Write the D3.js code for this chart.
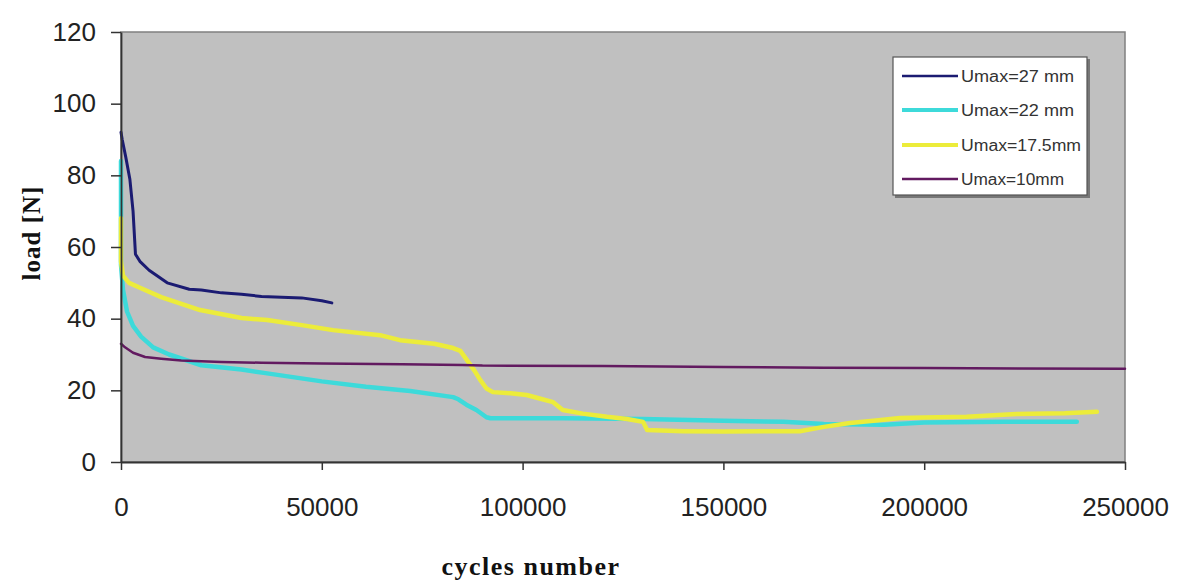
<!DOCTYPE html>
<html>
<head>
<meta charset="utf-8">
<script src="https://cdn.jsdelivr.net/npm/d3@7"></script>
<style>
  html, body { margin: 0; padding: 0; background: #ffffff; }
  svg { display: block; }
</style>
</head>
<body>
<script>
// ---- data ----
const seriesNames = ["Umax=27 mm", "Umax=22 mm", "Umax=17.5mm", "Umax=10mm"];
const seriesColors = ["#1b1b72", "#3ddada", "#ecec3a", "#621a60"];

const navyX = [0, 300, 1200, 2200, 3000, 3600, 4700, 7000, 11500, 17000, 20000, 25000, 30000, 35000, 40000, 45000, 50000, 52500];
const navyY = [92, 90, 85, 79, 70, 58, 56, 53.5, 50, 48.2, 48, 47.2, 46.8, 46.2, 46, 45.8, 45, 44.4];

const cyanX = [0, 0, 500, 1500, 3000, 5000, 8000, 12000, 20000, 30000, 36000, 50000, 61000, 72000, 82700, 84000, 86000, 88500, 91000, 92000, 110000, 130000, 150000, 165000, 175000, 190000, 200000, 220000, 238000];
const cyanY = [84, 55, 48, 42, 38, 35, 32, 30, 27, 25.8, 24.8, 22.5, 21, 19.8, 18.1, 17.5, 16, 14.5, 12.5, 12.2, 12.2, 12, 11.5, 11.2, 10.6, 10.4, 11, 11.2, 11.2];

const yellowX = [0, 0, 500, 2000, 5000, 10000, 19700, 30000, 36400, 45000, 52800, 64500, 69500, 78000, 82700, 84500, 86100, 88000, 89400, 91000, 92600, 97000, 101000, 104000, 107600, 110000, 115000, 121000, 126000, 130000, 131000, 140000, 150000, 160000, 169000, 175000, 181500, 188000, 194000, 200000, 210600, 223000, 235000, 243000];
const yellowY = [68, 56, 52, 50, 48.5, 46, 42.4, 40.2, 39.6, 38.2, 36.8, 35.4, 34, 33, 31.8, 31, 28.5, 25.5, 23, 20.5, 19.5, 19.2, 18.7, 17.8, 16.7, 14.5, 13.5, 12.6, 12, 11.2, 8.9, 8.6, 8.5, 8.6, 8.6, 9.8, 10.9, 11.6, 12.3, 12.4, 12.6, 13.4, 13.6, 14];

const purpleX = [0, 1000, 3000, 6000, 10000, 15000, 25000, 35000, 50000, 70000, 85000, 90000, 120000, 150000, 175000, 200000, 250000];
const purpleY = [33, 32, 30.5, 29.3, 28.8, 28.3, 27.9, 27.7, 27.5, 27.3, 27.1, 26.9, 26.8, 26.5, 26.3, 26.2, 26];

const xTicks = [0, 50000, 100000, 150000, 200000, 250000];
const yTicks = [0, 20, 40, 60, 80, 100, 120];

const seriesX = [navyX, cyanX, yellowX, purpleX];
const seriesY = [navyY, cyanY, yellowY, purpleY];
const strokeWidths = [3, 4.5, 4.5, 2.5];

// ---- layout ----
const W = 1181, H = 583;
const svg = d3.select("body").append("svg").attr("width", W).attr("height", H);

const x = d3.scaleLinear().domain([0, 250000]).range([121, 1125]);
const y = d3.scaleLinear().domain([0, 120]).range([462, 32]);

// plot area
svg.append("rect")
  .attr("x", x(0)).attr("y", y(120))
  .attr("width", x(250000) - x(0)).attr("height", y(0) - y(120))
  .attr("fill", "#c0c0c0")
  .attr("stroke", "#808080").attr("stroke-width", 1.5);

// series
const line = d3.line().x(d => x(d[0])).y(d => y(d[1]));
seriesNames.forEach((name, i) => {
  const pts = seriesX[i].map((v, j) => [v, seriesY[i][j]]);
  svg.append("path")
    .datum(pts)
    .attr("d", line)
    .attr("fill", "none")
    .attr("stroke", seriesColors[i])
    .attr("stroke-width", strokeWidths[i])
    .attr("stroke-linejoin", "round")
    .attr("stroke-linecap", "round");
});

// axes
const yAxis = svg.append("g")
  .attr("transform", `translate(${x(0)},0)`)
  .call(d3.axisLeft(y).tickValues(yTicks).tickSize(10).tickSizeOuter(0).tickPadding(15));
const xAxis = svg.append("g")
  .attr("transform", `translate(0,${y(0)})`)
  .call(d3.axisBottom(x).tickValues(xTicks).tickSize(8).tickSizeOuter(0).tickPadding(28).tickFormat(d3.format("d")));

[yAxis, xAxis].forEach(g => {
  g.select(".domain").attr("stroke", "#333").attr("stroke-width", 1.8);
  g.selectAll(".tick line").attr("stroke", "#333").attr("stroke-width", 1.5);
  g.selectAll(".tick text")
    .attr("font-family", "Liberation Sans, Arial, sans-serif")
    .attr("font-size", 26)
    .attr("fill", "#222");
});

// axis titles
svg.append("text")
  .attr("transform", "translate(40,233) rotate(-90)")
  .attr("text-anchor", "middle")
  .attr("font-family", "Liberation Serif, Times New Roman, serif")
  .attr("font-weight", "bold")
  .attr("font-size", 25)
  .attr("letter-spacing", 1)
  .attr("fill", "#111")
  .text("load [N]");

svg.append("text")
  .attr("x", 531).attr("y", 575)
  .attr("text-anchor", "middle")
  .attr("font-family", "Liberation Serif, Times New Roman, serif")
  .attr("font-weight", "bold")
  .attr("font-size", 26)
  .attr("letter-spacing", 1.5)
  .attr("fill", "#111")
  .text("cycles number");

// legend
const lg = svg.append("g");
lg.append("rect")
  .attr("x", 895).attr("y", 59).attr("width", 195).attr("height", 139)
  .attr("fill", "#777");
lg.append("rect")
  .attr("x", 893).attr("y", 57).attr("width", 194).attr("height", 138)
  .attr("fill", "#ffffff").attr("stroke", "#555").attr("stroke-width", 1.2);

const rowY = [76, 110, 145, 179];
seriesNames.forEach((name, i) => {
  lg.append("line")
    .attr("x1", 902).attr("x2", 958)
    .attr("y1", rowY[i]).attr("y2", rowY[i])
    .attr("stroke", seriesColors[i])
    .attr("stroke-width", i === 1 || i === 2 ? 4 : 2.5);
  lg.append("text")
    .attr("x", 961).attr("y", rowY[i] + 6)
    .attr("font-family", "Liberation Sans, Arial, sans-serif")
    .attr("font-size", 16)
    .attr("fill", "#333")
    .attr("textLength", [113, 113, 120, 103][i])
    .attr("lengthAdjust", "spacingAndGlyphs")
    .text(name);
});
</script>
</body>
</html>
